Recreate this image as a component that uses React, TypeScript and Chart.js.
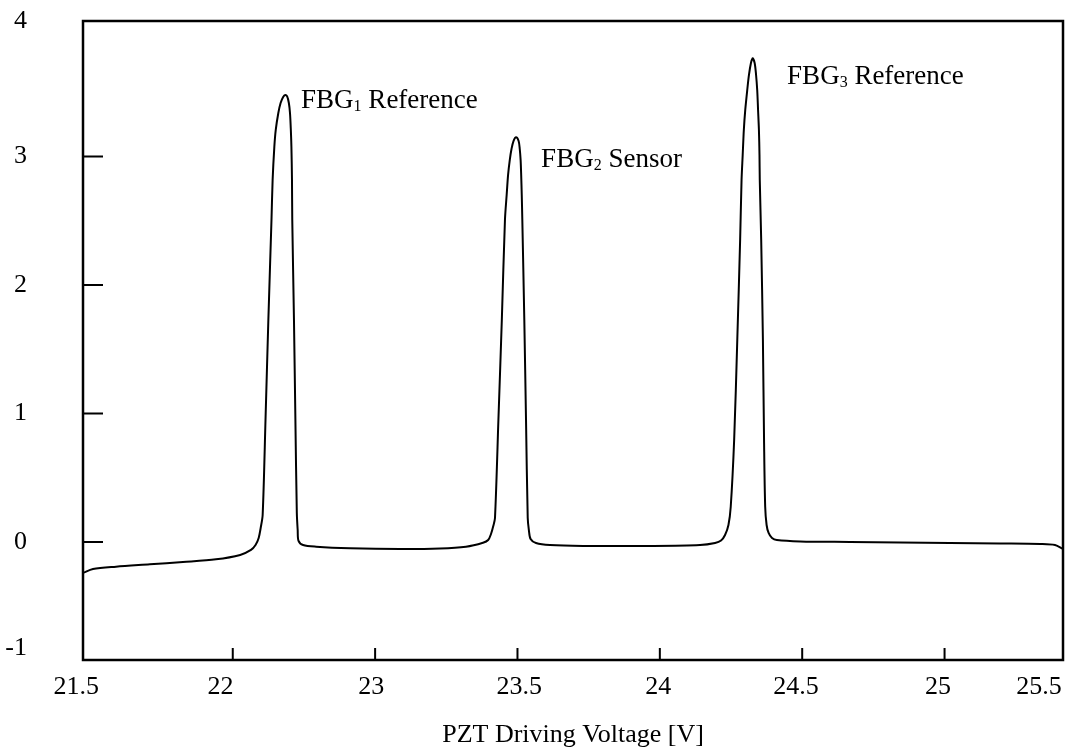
import { useEffect, useRef } from 'react';
import { Chart, registerables } from 'chart.js';

Chart.register(...registerables);

// PZT driving voltage [V] and detected signal along the sweep
const voltage = [
  21.974, 22.009, 22.09, 22.209, 22.325, 22.441, 22.526, 22.564,
  22.58, 22.591, 22.598, 22.605, 22.615, 22.625, 22.636, 22.64, 22.646, 22.651,
  22.66, 22.668, 22.677, 22.684, 22.691, 22.697, 22.701, 22.704, 22.706, 22.708,
  22.709, 22.715, 22.72, 22.725, 22.728, 22.731, 22.747, 22.793, 22.912, 23.088,
  23.228, 23.319,
  23.379, 23.397, 23.407, 23.415, 23.421, 23.433, 23.445, 23.456, 23.462, 23.467,
  23.473, 23.479, 23.486, 23.495, 23.504, 23.508, 23.511, 23.513, 23.515, 23.517,
  23.524, 23.53, 23.536, 23.54, 23.546, 23.565, 23.614, 23.73, 23.966,
  24.141, 24.194, 24.215, 24.229, 24.241, 24.249, 24.261, 24.272, 24.282, 24.287,
  24.291, 24.295, 24.3, 24.307, 24.313, 24.32, 24.326, 24.333, 24.338, 24.342,
  24.345, 24.348, 24.35, 24.351, 24.356, 24.362, 24.366, 24.37, 24.375, 24.382,
  24.394, 24.411, 24.493, 24.668, 24.844, 25.019, 25.195, 25.336, 25.388, 25.416,
];
const signal = [
  -0.24, -0.209, -0.191, -0.173, -0.155, -0.134, -0.1, -0.061,
  -0.023, 0.032, 0.11, 0.211, 0.95, 1.728, 2.507, 2.818, 3.075, 3.207,
  3.339, 3.417, 3.464, 3.479, 3.468, 3.417, 3.339, 3.207, 3.075, 2.818,
  2.507, 1.728, 0.95, 0.226, 0.094, 0.009, -0.023, -0.036, -0.048, -0.054,
  -0.05, -0.036,
  -0.005, 0.016, 0.063, 0.125, 0.188, 0.95, 1.728, 2.507, 2.701, 2.857,
  2.974, 3.059, 3.121, 3.15, 3.121, 3.059, 2.974, 2.857, 2.701, 2.507,
  1.728, 0.95, 0.188, 0.094, 0.024, -0.007, -0.023, -0.03, -0.03,
  -0.023, -0.007, 0.012, 0.055, 0.133, 0.275, 0.795, 1.573, 2.351, 2.818,
  3.012, 3.207, 3.363, 3.518, 3.635, 3.728, 3.765, 3.728, 3.635, 3.518,
  3.363, 3.207, 3.012, 2.818, 2.351, 1.573, 0.795, 0.275, 0.133, 0.071,
  0.032, 0.016, 0.005, 0.001, -0.003, -0.007, -0.011, -0.015, -0.023, -0.054,
];

// axis extents
const xMin = 21.974;
const xMax = 25.416;
const yMin = -0.9175;
const yMax = 4.055;

// printed tick labels and where each one sits
const xTickLabels = ['21.5', '22', '23', '23.5', '24', '24.5', '25', '25.5'];
const xLabelAt = [21.95, 22.457, 22.986, 23.506, 23.994, 24.478, 24.977, 25.332];
const xTickMarks = [22.5, 23, 23.5, 24, 24.5, 25];

const yTickLabels = ['-1', '0', '1', '2', '3', '4'];
const yLabelAt = [-0.824, 0, 1, 2, 3, 4.055];
const yTickMarks = [0, 1, 2, 3];

// peak captions: base text, subscript, remainder, anchor (left, baseline)
const peakNames = ['FBG', 'FBG', 'FBG'];
const peakIndices = ['1', '2', '3'];
const peakRoles = [' Reference', ' Sensor', ' Reference'];
const peakLabelX = [22.74, 23.583, 24.447];
const peakLabelY = [3.378, 2.919, 3.565];

const SERIF = '"Liberation Serif", "Times New Roman", serif';

const framePlugin = {
  id: 'frame',
  afterDraw(chart: any) {
    const { ctx, chartArea: a, scales } = chart;
    const xs = scales.x;
    const ys = scales.y;
    ctx.save();
    ctx.strokeStyle = '#000';
    ctx.lineWidth = 2.5;
    ctx.strokeRect(a.left, a.top, a.right - a.left, a.bottom - a.top);

    ctx.lineWidth = 2;
    ctx.beginPath();
    yTickMarks.forEach((v) => {
      const py = ys.getPixelForValue(v);
      ctx.moveTo(a.left, py);
      ctx.lineTo(a.left + 20, py);
    });
    xTickMarks.forEach((v) => {
      const px = xs.getPixelForValue(v);
      ctx.moveTo(px, a.bottom);
      ctx.lineTo(px, a.bottom - 12);
    });
    ctx.stroke();

    ctx.fillStyle = '#000';
    ctx.textBaseline = 'alphabetic';
    ctx.textAlign = 'left';
    peakNames.forEach((name, i) => {
      let px = xs.getPixelForValue(peakLabelX[i]);
      const py = ys.getPixelForValue(peakLabelY[i]);
      ctx.font = `27px ${SERIF}`;
      ctx.fillText(name, px, py);
      px += ctx.measureText(name).width;
      ctx.font = `16px ${SERIF}`;
      ctx.fillText(peakIndices[i], px, py + 3);
      px += ctx.measureText(peakIndices[i]).width;
      ctx.font = `27px ${SERIF}`;
      ctx.fillText(peakRoles[i], px, py);
    });
    ctx.restore();
  },
};

export default function App() {
  const ref = useRef<HTMLCanvasElement>(null);

  useEffect(() => {
    if (!ref.current) return;
    const font = { family: SERIF, size: 26 };
    const chart = new Chart(ref.current, {
      type: 'line',
      data: {
        datasets: [
          {
            data: voltage.map((v, i) => ({ x: v, y: signal[i] })),
            borderColor: '#000',
            borderWidth: 2,
            pointRadius: 0,
            fill: false,
            tension: 0.3,
          },
        ],
      },
      options: {
        animation: false,
        responsive: false,
        events: [],
        layout: { padding: { top: 21, right: 5, left: 0, bottom: 0 } },
        plugins: { legend: { display: false }, tooltip: { enabled: false } },
        scales: {
          x: {
            type: 'linear',
            min: xMin,
            max: xMax,
            afterBuildTicks: (s: any) => {
              s.ticks = xLabelAt.map((v) => ({ value: v }));
            },
            afterFit: (s: any) => {
              s.height = 91;
              s.paddingLeft = 0;
              s.paddingRight = 0;
            },
            grid: { display: false, drawTicks: false },
            border: { display: false },
            ticks: {
              autoSkip: false,
              maxRotation: 0,
              padding: 12,
              color: '#000',
              font,
              callback: (_v: any, i: number) => xTickLabels[i],
            },
            title: {
              display: true,
              text: 'PZT Driving Voltage [V]',
              color: '#000',
              font,
              padding: { top: 0, bottom: 0 },
            },
          },
          y: {
            type: 'linear',
            min: yMin,
            max: yMax,
            afterBuildTicks: (s: any) => {
              s.ticks = yLabelAt.map((v) => ({ value: v }));
            },
            afterFit: (s: any) => {
              s.width = 83;
              s.paddingTop = 0;
              s.paddingBottom = 0;
            },
            grid: { display: false, drawTicks: false },
            border: { display: false },
            ticks: {
              autoSkip: false,
              padding: 56,
              color: '#000',
              font,
              callback: (_v: any, i: number) => yTickLabels[i],
            },
          },
        },
      },
      plugins: [framePlugin],
    } as any);
    return () => chart.destroy();
  }, []);

  return (
    <div style={{ position: 'absolute', left: 0, top: 0, width: 1068, height: 751, background: '#fff' }}>
      <canvas ref={ref} width={1068} height={751} style={{ display: 'block' }} />
    </div>
  );
}
